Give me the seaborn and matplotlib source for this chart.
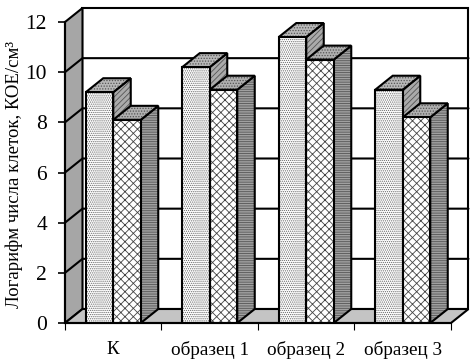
import matplotlib
matplotlib.use("Agg")
import matplotlib.pyplot as plt
from matplotlib.patches import Polygon
import pandas as pd
import seaborn as sns

categories = ["К", "образец 1", "образец 2", "образец 3"]
series_names = ["a", "b"]
values_a = [9.2, 10.2, 11.4, 9.3]
values_b = [8.1, 9.3, 10.5, 8.2]
y_ticks = [0, 2, 4, 6, 8, 10, 12]
y_label = "Логарифм числа клеток, КОЕ/см³"

W, H = 477, 359
sns.set_theme(style="white")
plt.rcParams["font.family"] = ["Liberation Serif", "DejaVu Serif"]
plt.rcParams["hatch.linewidth"] = 0.6

df = pd.DataFrame({
    "cat": categories * 2,
    "series": [series_names[0]] * 4 + [series_names[1]] * 4,
    "val": values_a + values_b,
})

fig = plt.figure(figsize=(W / 100, H / 100), dpi=100, facecolor="white")
ax = fig.add_axes([65 / W, (H - 323) / H, 386 / W, 301 / H])
sns.barplot(data=df, x="cat", y="val", hue="series", order=categories,
            palette=["white", "white"], saturation=1, width=0.57, gap=0,
            edgecolor="black", linewidth=1.5, legend=False, zorder=5, ax=ax)
ax.set_xlim(-0.5, 3.5)
ax.set_ylim(0, 12)

# depth of the fake 3d box, in data units
dx = 17.5 * 4 / 386
dy = 14 * 12 / 301
x0, x1 = ax.get_xlim()
lw = 1.5


def face(points, color, hatch=None, z=1, hatch_color="#555555"):
    # fill + hatch in a softer grey, then the black outline on top
    ax.add_patch(Polygon(points, closed=True, facecolor=color, edgecolor=hatch_color if hatch else "none",
                         hatch=hatch, linewidth=0, clip_on=False, zorder=z))
    ax.add_patch(Polygon(points, closed=True, facecolor="none", edgecolor="black",
                         linewidth=lw, clip_on=False, zorder=z))


# walls and floor
face([(x0 + dx, dy), (x1 + dx, dy), (x1 + dx, 12 + dy), (x0 + dx, 12 + dy)], "white")
face([(x0, 0), (x0 + dx, dy), (x0 + dx, 12 + dy), (x0, 12)], "#a6a6a6")
face([(x0, 0), (x1, 0), (x1 + dx, dy), (x0 + dx, dy)], "#c4c4c4")

for t in y_ticks[1:-1]:
    ax.plot([x0, x0 + dx, x1 + dx], [t, t + dy, t + dy], color="black", lw=lw,
            clip_on=False, zorder=2)

front_hatch = ["........", "xxxx"]
front_color = ["#666666", "#444444"]
side_hatch = ["//////", "-------"]
side_color = ["#aaaaaa", "#a0a0a0"]
top_color = ["#b8b8b8", "#b0b0b0"]

for i, container in enumerate(ax.containers):
    for bar in container:
        l, r = bar.get_x(), bar.get_x() + bar.get_width()
        h = bar.get_height()
        z = 3 + i
        face([(r, 0), (r + dx, dy), (r + dx, h + dy), (r, h)], side_color[i], side_hatch[i], z)
        face([(l, h), (r, h), (r + dx, h + dy), (l + dx, h + dy)], top_color[i], "......", z)
        # front face texture, the seaborn bar keeps the outline
        ax.add_patch(Polygon([(l, 0), (r, 0), (r, h), (l, h)], closed=True, facecolor="white",
                             edgecolor=front_color[i], hatch=front_hatch[i], linewidth=0, zorder=5))
        bar.set_facecolor("none")
        bar.set_zorder(5.5)

ax.set_yticks(y_ticks)
ax.set_xticks([x0, 0.5, 1.5, 2.5, x1], minor=True)
ax.tick_params(axis="y", which="major", length=5, width=1.2, color="black", left=True,
               labelsize=15.5, pad=8, labelcolor="black")
ax.tick_params(axis="x", which="major", length=0, labelsize=13.8, pad=13, labelcolor="black")
ax.tick_params(axis="x", which="minor", length=5, width=0.8, color="black", bottom=True)
ax.set_xlabel("")
ax.set_ylabel("")
fig.text(14 / W, (H - 174) / H, y_label, rotation=90, ha="center", va="center",
         fontsize=13.5, color="black")

for name, spine in ax.spines.items():
    spine.set_visible(name in ("left", "bottom"))
    spine.set_color("black")
    spine.set_linewidth(lw)
    spine.set_zorder(6)

fig.savefig("out.png", dpi=100)
